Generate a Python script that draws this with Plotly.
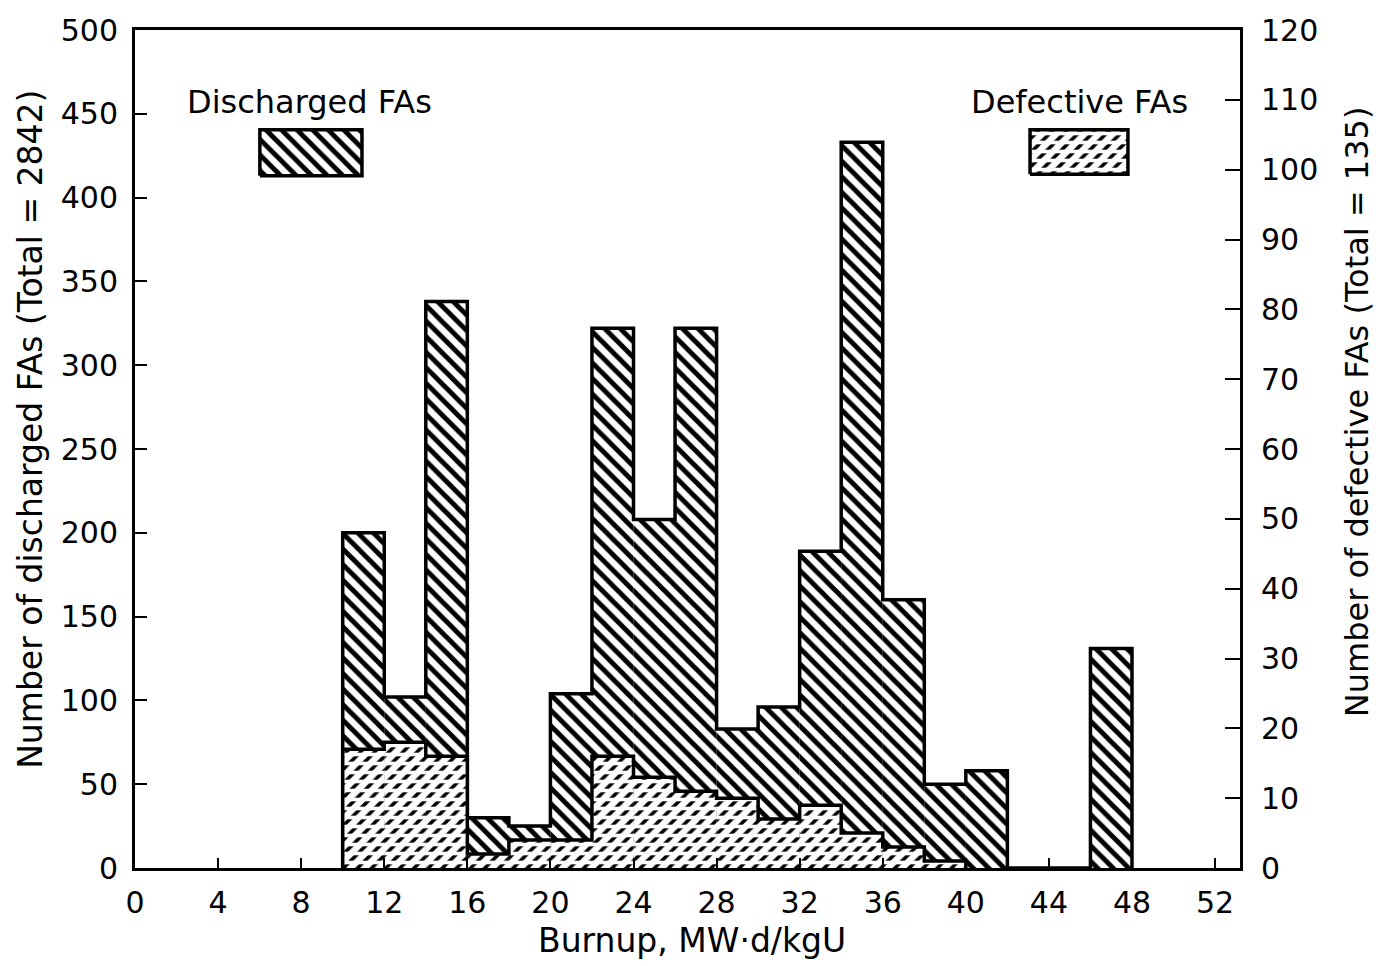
import plotly.graph_objects as go

# ---------------- data ----------------
bin_width = 2
bin_left = [10, 12, 14, 16, 18, 20, 22, 24, 26, 28, 30, 32, 34, 36, 38, 40, 42, 44, 46]
discharged = [200, 102, 338, 30, 25, 104, 322, 208, 322, 83, 96, 189, 433, 160, 50, 58, 0, 0, 131]

def_left = [10, 12, 14, 16, 18, 20, 22, 24, 26, 28, 30, 32, 34, 36, 38]
defective = [17, 18, 16, 2, 4, 4, 16, 13, 11, 10, 7, 9, 5, 3, 1]

x_ticks = list(range(0, 53, 4))
y_left_ticks = list(range(0, 501, 50))
y_right_ticks = list(range(0, 121, 10))

x_title = "Burnup, MW·d/kgU"
y_left_title = "Number of discharged FAs (Total = 2842)"
y_right_title = "Number of defective FAs (Total = 135)"
legend_labels = ["Discharged FAs", "Defective FAs"]

FONT = "DejaVu Sans"

HATCH_D = dict(shape="\\", fgcolor="black", bgcolor="white", size=11, solidity=0.45, fgopacity=1)
HATCH_F = dict(shape="/", fgcolor="black", bgcolor="white", size=10, solidity=0.35, fgopacity=1)
CUT_F = dict(shape="-", fgcolor="white", bgcolor="rgba(0,0,0,0)", size=9, solidity=0.4, fgopacity=1)


def centers(lefts):
    return [l + bin_width / 2 for l in lefts]


def step_outline(lefts, vals):
    xs = [lefts[0]] + list(lefts) + [lefts[-1] + bin_width]
    ys = [0] + list(vals) + [0]
    return xs, ys


fig = go.Figure()

# discharged bars (left axis)
fig.add_trace(go.Bar(
    x=centers(bin_left), y=discharged, width=bin_width,
    marker=dict(color="white", line=dict(width=0), pattern=HATCH_D),
    yaxis="y", showlegend=False, hoverinfo="skip"))
xs, ys = step_outline(bin_left, discharged)
fig.add_trace(go.Scatter(x=xs, y=ys, mode="lines", line=dict(color="black", width=3.5, shape="hv"),
                         yaxis="y", showlegend=False, hoverinfo="skip"))

# defective bars (right axis)
fig.add_trace(go.Bar(
    x=centers(def_left), y=defective, width=bin_width,
    marker=dict(color="white", line=dict(width=0), pattern=HATCH_F),
    yaxis="y2", showlegend=False, hoverinfo="skip"))
fig.add_trace(go.Bar(
    x=centers(def_left), y=defective, width=bin_width,
    marker=dict(color="rgba(0,0,0,0)", line=dict(width=0), pattern=CUT_F),
    yaxis="y2", showlegend=False, hoverinfo="skip"))
xs2, ys2 = step_outline(def_left, defective)
fig.add_trace(go.Scatter(x=xs2, y=ys2, mode="lines", line=dict(color="black", width=3.5, shape="hv"),
                         yaxis="y2", showlegend=False, hoverinfo="skip"))

# legend swatches on a hidden overlay axis (0..1 in both directions)
sw1 = dict(x0=0.113, x1=0.2054, y0=0.826, y1=0.881)
sw2 = dict(x0=0.810, x1=0.8986, y0=0.828, y1=0.881)


def rect(s):
    return ([s["x0"], s["x1"], s["x1"], s["x0"], s["x0"]],
            [s["y0"], s["y0"], s["y1"], s["y1"], s["y0"]])


rx, ry = rect(sw1)
fig.add_trace(go.Scatter(x=rx, y=ry, xaxis="x3", yaxis="y3", mode="lines", fill="toself",
                         fillcolor="white", fillpattern=HATCH_D,
                         line=dict(color="black", width=3.5), showlegend=False, hoverinfo="skip"))
rx, ry = rect(sw2)
fig.add_trace(go.Scatter(x=rx, y=ry, xaxis="x3", yaxis="y3", mode="lines", fill="toself",
                         fillcolor="white", fillpattern=HATCH_F,
                         line=dict(color="black", width=0), showlegend=False, hoverinfo="skip"))
fig.add_trace(go.Scatter(x=rx, y=ry, xaxis="x3", yaxis="y3", mode="lines", fill="toself",
                         fillcolor="rgba(0,0,0,0)", fillpattern=CUT_F,
                         line=dict(color="black", width=3.5), showlegend=False, hoverinfo="skip"))

tickfont = dict(family=FONT, size=30, color="black")

fig.update_layout(
    width=1383, height=966,
    margin=dict(l=135, r=143, t=30, b=98),
    paper_bgcolor="white", plot_bgcolor="white",
    barmode="overlay",
    xaxis=dict(range=[0, 53.2], tickvals=x_ticks, ticks="inside", ticklen=10, tickwidth=2,
               tickcolor="black", showline=True, linecolor="black", linewidth=3, mirror=True,
               showgrid=False, zeroline=False, tickfont=tickfont, ticklabelstandoff=6),
    yaxis=dict(range=[0, 500], tickvals=y_left_ticks, ticks="inside", ticklen=12, tickwidth=2,
               tickcolor="black", showline=True, linecolor="black", linewidth=3, mirror=True,
               showgrid=False, zeroline=False, tickfont=tickfont, ticklabelstandoff=8),
    yaxis2=dict(range=[0, 120], tickvals=y_right_ticks, ticks="inside", ticklen=15, tickwidth=2,
                tickcolor="black", overlaying="y", side="right", showline=True, linecolor="black",
                linewidth=3, showgrid=False, zeroline=False, tickfont=tickfont, ticklabelstandoff=12),
    xaxis3=dict(range=[0, 1], overlaying="x", visible=False, anchor="y3"),
    yaxis3=dict(range=[0, 1], overlaying="y", visible=False, anchor="x3"),
    annotations=[
        dict(text=x_title, xref="paper", yref="paper", x=0.504, y=-0.086, showarrow=False,
             font=dict(family=FONT, size=33, color="black"), xanchor="center", yanchor="middle"),
        dict(text=y_left_title, xref="paper", yref="paper", x=-0.094, y=0.523, showarrow=False,
             textangle=-90, font=dict(family=FONT, size=33, color="black"),
             xanchor="center", yanchor="middle"),
        dict(text=y_right_title, xref="paper", yref="paper", x=1.106, y=0.544, showarrow=False,
             textangle=-90, font=dict(family=FONT, size=32, color="black"),
             xanchor="center", yanchor="middle"),
        dict(text=legend_labels[0], xref="paper", yref="paper", x=0.158, y=0.914, showarrow=False,
             font=dict(family=FONT, size=32, color="black"), xanchor="center", yanchor="middle"),
        dict(text=legend_labels[1], xref="paper", yref="paper", x=0.855, y=0.914, showarrow=False,
             font=dict(family=FONT, size=32, color="black"), xanchor="center", yanchor="middle"),
    ],
)

fig.write_html("out.html")
